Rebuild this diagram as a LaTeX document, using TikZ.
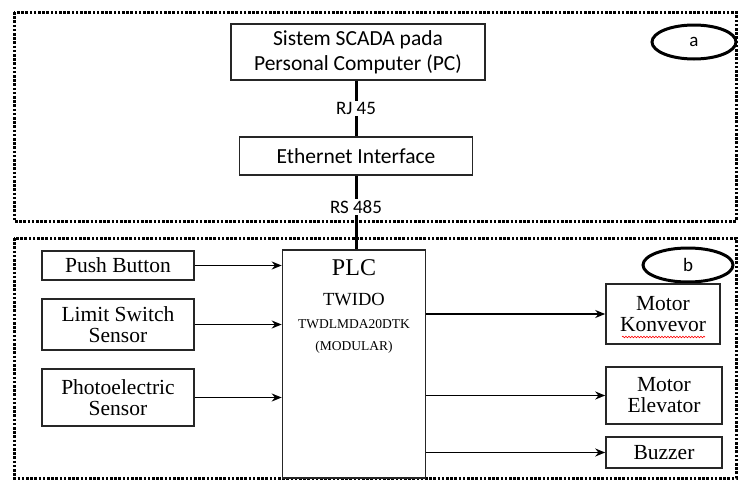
\documentclass[tikz,border=0pt]{standalone}
\usepackage{fontspec}
\setmainfont{Liberation Serif}
\newfontfamily\calibri{Carlito}
\usetikzlibrary{arrows.meta,shapes.geometric,decorations.pathmorphing}
\tikzset{>={Stealth[length=10pt,width=8pt]},
  blk/.style={draw=black!85,line width=1.6pt,align=center,inner sep=0pt,font=\fontsize{21.5}{21}\selectfont},
  topblk/.style={blk,font=\calibri\fontsize{21.5}{25}\selectfont},
  frame/.style={line width=3pt,dash pattern=on 2.6pt off 1.6pt},
  tag/.style={draw,ellipse,line width=3pt,minimum height=34pt,font=\calibri\fontsize{19}{19}\selectfont},
  link/.style={line width=3pt},
  sig/.style={->,line width=1.6pt}}

\begin{document}
\begin{tikzpicture}[x=1pt,y=-1pt]
\useasboundingbox (0,0) rectangle (740,482);
% dotted frames
\draw[frame] (14,12) rectangle (736,221);
\draw[frame] (14,238) rectangle (736,478);
\node[tag,minimum width=84pt] (tagA) at (694,42) {a};
\node[tag,minimum width=90pt] (tagB) at (688,265) {b};
% SCADA part
\node[topblk,minimum width=254pt,minimum height=56pt] (pc) at (358,52) {Sistem SCADA pada\\Personal Computer (PC)};
\node[topblk,minimum width=233pt,minimum height=38pt] (eth) at (356,156) {Ethernet Interface};
% PLC
\node[blk,minimum width=143pt,minimum height=228pt] (plc) at (354,364) {};
\node[font=\fontsize{24}{24}\selectfont] (plcname) at (354,268) {PLC};
\node[font=\fontsize{18.5}{18}\selectfont] (plcbrand) at (354,300) {TWIDO};
\node[font=\fontsize{13.5}{13}\selectfont] (plctype) at (354,324) {TWDLMDA20DTK};
\node[font=\fontsize{13.5}{13}\selectfont] (plcmod) at (354,347) {(MODULAR)};
\draw[link] (eth.north|-pc.south) -- node[fill=white,inner sep=1.5pt,font=\calibri\fontsize{19}{19}\selectfont] {RJ 45} (eth.north);
\draw[link] (eth.south) -- node[pos=0.43,fill=white,inner sep=1.5pt,font=\calibri\fontsize{19}{19}\selectfont] {RS 485} (eth.south|-plc.north);
% inputs
\node[blk,minimum width=152pt,minimum height=29pt] (push) at (118,265.5) {Push Button};
\node[blk,minimum width=152pt,minimum height=51pt] (limit) at (118,324.5) {Limit Switch\\Sensor};
\node[blk,minimum width=152pt,minimum height=57pt] (photo) at (118,397.5) {Photoelectric\\Sensor};
\draw[sig] (push.east) -- (plc.west|-push.east);
\draw[sig] (limit.east) -- (plc.west|-limit.east);
\draw[sig] (photo.east) -- (plc.west|-photo.east);
% outputs
\node[blk,minimum width=114pt,minimum height=60pt] (konv) at (663,314) {Motor\\Konvevor};
\node[blk,minimum width=116pt,minimum height=57pt] (elev) at (664,395.5) {Motor\\Elevator};
\node[blk,minimum width=116pt,minimum height=31pt] (buzz) at (664,452.5) {Buzzer};
\draw[sig] (plc.east|-konv.west) -- (konv.west);
\draw[sig] (plc.east|-elev.west) -- (elev.west);
\draw[sig] (plc.east|-buzz.west) -- (buzz.west);
\draw[red,line width=0.6pt,decorate,decoration={snake,amplitude=0.8pt,segment length=3pt}] (622,337) -- (705,337);
\end{tikzpicture}
\end{document}
